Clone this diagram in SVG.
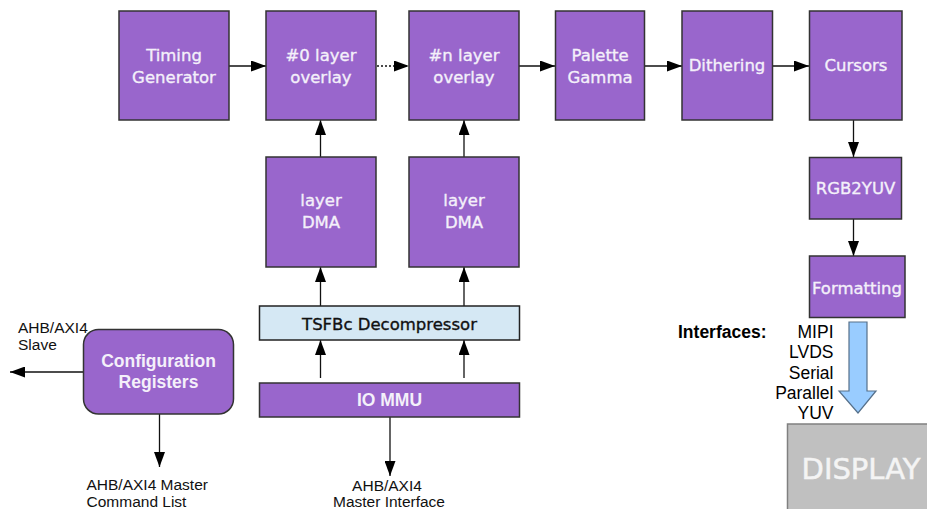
<svg xmlns="http://www.w3.org/2000/svg" width="927" height="509" viewBox="0 0 927 509">
<style>
.b{fill:#9966cc;stroke:#333;stroke-width:1.5}
.t{font-family:"DejaVu Sans",sans-serif;font-size:16.5px;fill:#f4f0fa;stroke:#f4f0fa;stroke-width:0.35;text-anchor:middle}
.tb{font-family:"Liberation Sans",Arial,sans-serif;font-size:17.5px;font-weight:bold;fill:#f4f0fa;text-anchor:middle}
.l{font-family:"Liberation Sans",Arial,sans-serif;font-size:15.5px;fill:#111}
.i{font-family:"Liberation Sans",Arial,sans-serif;font-size:17.5px;fill:#000}
.c{stroke:#111;stroke-width:1.3;fill:none}
</style>
<defs>
<marker id="a" viewBox="0 0 15 11" refX="15" refY="5.5" markerWidth="15" markerHeight="11" markerUnits="userSpaceOnUse" orient="auto"><path d="M0,0 L15,5.5 L0,11 z" fill="#000"/></marker>
</defs>
<rect width="927" height="509" fill="#fff"/>
<g id="connectors">
<line class="c" x1="229" y1="66" x2="266" y2="66" marker-end="url(#a)"/>
<line class="c" x1="357" y1="66" x2="409" y2="66" stroke-dasharray="2,2" marker-end="url(#a)"/>
<line class="c" x1="519" y1="66" x2="555" y2="66" marker-end="url(#a)"/>
<line class="c" x1="645" y1="66" x2="682" y2="66" marker-end="url(#a)"/>
<line class="c" x1="772" y1="66" x2="809" y2="66" marker-end="url(#a)"/>
<line class="c" x1="853.5" y1="120" x2="853.5" y2="157" marker-end="url(#a)"/>
<line class="c" x1="853.5" y1="219" x2="853.5" y2="256" marker-end="url(#a)"/>
<line class="c" x1="320.5" y1="157" x2="320.5" y2="120" marker-end="url(#a)"/>
<line class="c" x1="464" y1="157" x2="464" y2="120" marker-end="url(#a)"/>
<line class="c" x1="320.5" y1="306" x2="320.5" y2="267" marker-end="url(#a)"/>
<line class="c" x1="464" y1="306" x2="464" y2="267" marker-end="url(#a)"/>
<line class="c" x1="320.5" y1="378" x2="320.5" y2="340" marker-end="url(#a)"/>
<line class="c" x1="464" y1="378" x2="464" y2="340" marker-end="url(#a)"/>
<line class="c" x1="390" y1="417" x2="390" y2="476" marker-end="url(#a)"/>
<line class="c" x1="83" y1="372" x2="10" y2="372" marker-end="url(#a)"/>
<line class="c" x1="159.5" y1="414" x2="159.5" y2="467" marker-end="url(#a)"/>
</g>
<g id="timing"><rect class="b" x="119" y="11" width="110" height="109"/><text class="t" x="174" y="61">Timing</text><text class="t" x="174" y="83">Generator</text></g>
<g id="overlay0"><rect class="b" x="266" y="11" width="110" height="109"/><text class="t" x="321" y="61">#0 layer</text><text class="t" x="321" y="83">overlay</text></g>
<g id="overlayn"><rect class="b" x="409" y="11" width="110" height="109"/><text class="t" x="464" y="61">#n layer</text><text class="t" x="464" y="83">overlay</text></g>
<g id="palette"><rect class="b" x="555.5" y="11" width="89" height="109"/><text class="t" x="600" y="61">Palette</text><text class="t" x="600" y="83">Gamma</text></g>
<g id="dithering"><rect class="b" x="682" y="11" width="90.5" height="109"/><text class="t" x="727" y="71">Dithering</text></g>
<g id="cursors"><rect class="b" x="809.5" y="11" width="92.5" height="109"/><text class="t" x="856" y="71">Cursors</text></g>
<g id="rgb2yuv"><rect class="b" x="809.5" y="157.5" width="92" height="61.5"/><text class="t" x="855.5" y="193.5">RGB2YUV</text></g>
<g id="formatting"><rect class="b" x="809.5" y="256" width="95.5" height="61.5"/><text class="t" x="857" y="293.5">Formatting</text></g>
<g id="dma0"><rect class="b" x="266" y="157" width="110" height="110"/><text class="t" x="321" y="206">layer</text><text class="t" x="321" y="228">DMA</text></g>
<g id="dman"><rect class="b" x="409" y="157" width="110" height="110"/><text class="t" x="464" y="206">layer</text><text class="t" x="464" y="228">DMA</text></g>
<g id="tsfbc"><rect x="259.5" y="306" width="260" height="34" fill="#d5e8f4" stroke="#222" stroke-width="1.5"/><text class="t" x="389.5" y="329.5" style="fill:#111;stroke:#111">TSFBc Decompressor</text></g>
<g id="iommu"><rect class="b" x="259.5" y="383" width="260" height="34"/><text class="tb" x="389.5" y="405.5">IO MMU</text></g>
<g id="config"><rect class="b" x="83.5" y="329.5" width="150" height="84.5" rx="15" ry="15"/><text class="tb" x="158.5" y="367">Configuration</text><text class="tb" x="158.5" y="388">Registers</text></g>
<g id="labels">
<text class="l" x="18" y="333">AHB/AXI4</text><text class="l" x="18" y="350">Slave</text>
<text class="l" x="86.5" y="490">AHB/AXI4 Master</text><text class="l" x="86.5" y="507">Command List</text>
<text class="l" x="387" y="491" text-anchor="middle">AHB/AXI4</text><text class="l" x="389" y="507" text-anchor="middle">Master Interface</text>
<text class="i" x="678" y="338" style="font-weight:bold">Interfaces:</text>
<text class="i" x="833.5" y="338" text-anchor="end">MIPI</text>
<text class="i" x="833.5" y="358" text-anchor="end">LVDS</text>
<text class="i" x="833.5" y="379" text-anchor="end">Serial</text>
<text class="i" x="833.5" y="399" text-anchor="end">Parallel</text>
<text class="i" x="833.5" y="419" text-anchor="end">YUV</text>
</g>
<g id="interface-arrow"><path d="M849,322 L867,322 L867,391 L876,391 L858,413 L839,391 L849,391 z" fill="#99ccff" stroke="#56708a" stroke-width="1.2"/></g>
<g id="display"><rect x="787.5" y="424" width="145" height="90" fill="#c0c0c0" stroke="#808080" stroke-width="1.5"/><text x="861" y="479" font-family="'DejaVu Sans',sans-serif" font-size="29" fill="#f4f4f4" stroke="#f4f4f4" stroke-width="0.5" text-anchor="middle">DISPLAY</text></g>
</svg>
